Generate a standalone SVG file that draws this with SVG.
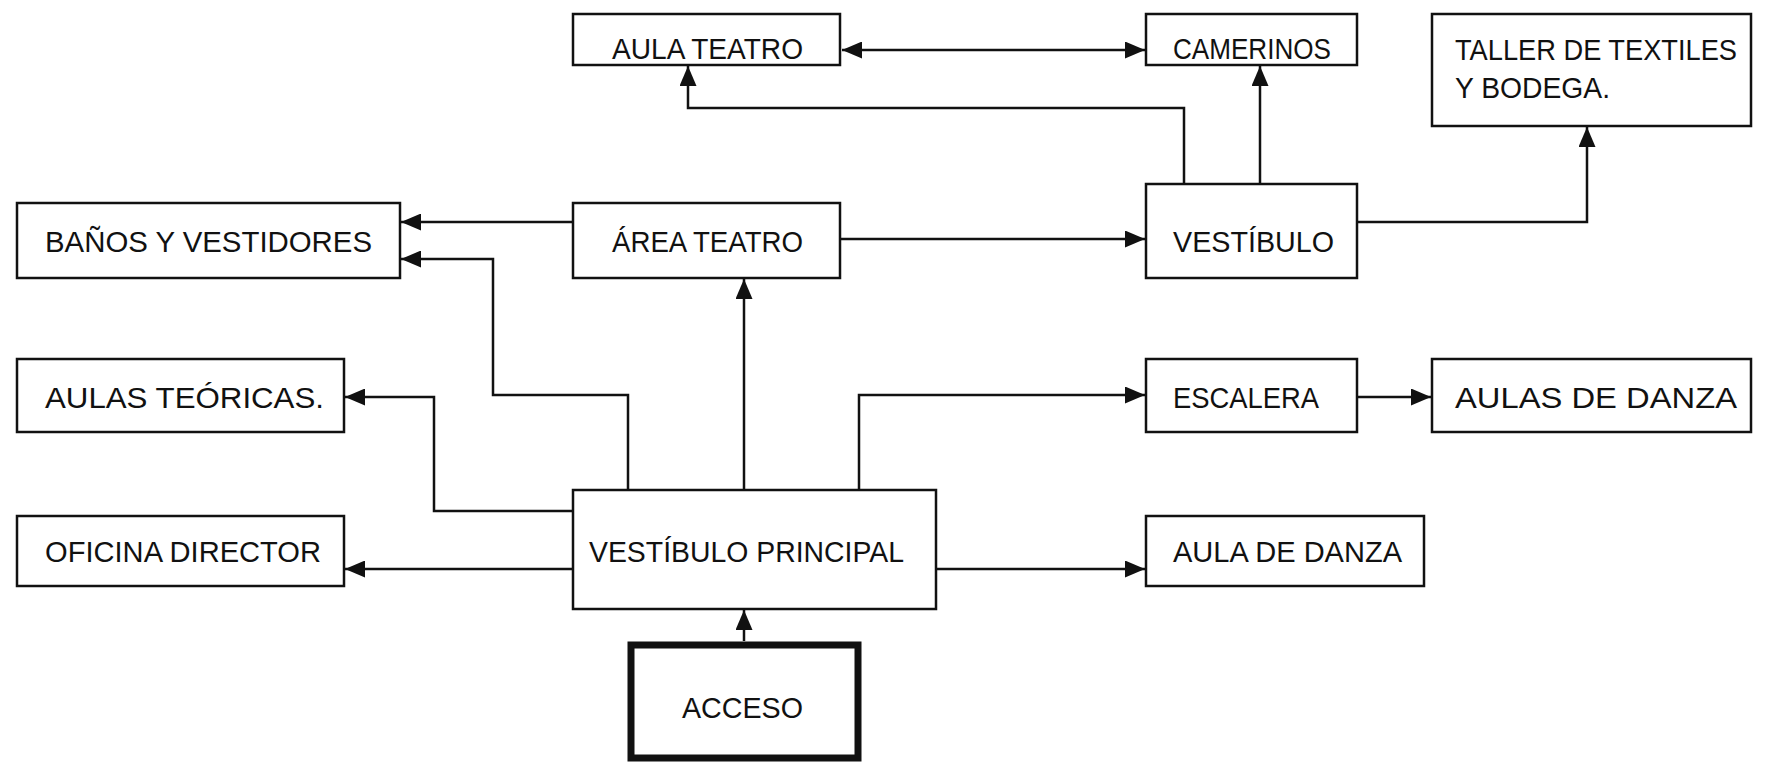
<svg xmlns="http://www.w3.org/2000/svg" width="1768" height="762" viewBox="0 0 1768 762">
<style>
rect.n{fill:#fff;stroke:#111;stroke-width:2.5}
rect.thick{fill:#fff;stroke:#111;stroke-width:7}
text{font-family:"Liberation Sans",Arial,sans-serif;font-size:30px;fill:#111}
.c path{fill:none;stroke:#111;stroke-width:2.5}
</style>
<defs>
<marker id="ah" viewBox="0 0 20 17" refX="20" refY="8.5" markerWidth="20" markerHeight="17" markerUnits="userSpaceOnUse" orient="auto-start-reverse">
<path d="M0,0 L20,8.5 L0,17 Z" fill="#111"/>
</marker>
</defs>
<rect width="1768" height="762" fill="#fff"/>
<g class="c">
<path d="M842,50 H1145" marker-start="url(#ah)" marker-end="url(#ah)"/>
<path d="M1184,184 V108 H688 V66" marker-end="url(#ah)"/>
<path d="M1260,184 V66" marker-end="url(#ah)"/>
<path d="M1357,222 H1587 V127" marker-end="url(#ah)"/>
<path d="M573,222 H401" marker-end="url(#ah)"/>
<path d="M840,239 H1145" marker-end="url(#ah)"/>
<path d="M628,490 V395 H493 V259 H401" marker-end="url(#ah)"/>
<path d="M744,490 V279" marker-end="url(#ah)"/>
<path d="M573,511 H434 V397 H345" marker-end="url(#ah)"/>
<path d="M573,569 H345" marker-end="url(#ah)"/>
<path d="M859,490 V395 H1145" marker-end="url(#ah)"/>
<path d="M936,569 H1145" marker-end="url(#ah)"/>
<path d="M1357,397 H1431" marker-end="url(#ah)"/>
<path d="M744,641 V610" marker-end="url(#ah)"/>
</g>
<g id="aula-teatro"><rect class="n" x="573" y="14" width="267" height="51"/><text x="612" y="59" textLength="191" lengthAdjust="spacingAndGlyphs">AULA TEATRO</text></g>
<g id="camerinos"><rect class="n" x="1146" y="14" width="211" height="51"/><text x="1173" y="59" textLength="158" lengthAdjust="spacingAndGlyphs">CAMERINOS</text></g>
<g id="taller"><rect class="n" x="1432" y="14" width="319" height="112"/><text x="1455" y="60" textLength="282" lengthAdjust="spacingAndGlyphs">TALLER DE TEXTILES</text><text x="1455" y="98" textLength="155" lengthAdjust="spacingAndGlyphs">Y BODEGA.</text></g>
<g id="banos"><rect class="n" x="17" y="203" width="383" height="75"/><text x="45" y="252" textLength="327" lengthAdjust="spacingAndGlyphs">BAÑOS Y VESTIDORES</text></g>
<g id="area-teatro"><rect class="n" x="573" y="203" width="267" height="75"/><text x="612" y="252" textLength="191" lengthAdjust="spacingAndGlyphs">ÁREA TEATRO</text></g>
<g id="vestibulo"><rect class="n" x="1146" y="184" width="211" height="94"/><text x="1173" y="252" textLength="161" lengthAdjust="spacingAndGlyphs">VESTÍBULO</text></g>
<g id="aulas-teoricas"><rect class="n" x="17" y="359" width="327" height="73"/><text x="45" y="408" textLength="279" lengthAdjust="spacingAndGlyphs">AULAS TEÓRICAS.</text></g>
<g id="escalera"><rect class="n" x="1146" y="359" width="211" height="73"/><text x="1173" y="408" textLength="146" lengthAdjust="spacingAndGlyphs">ESCALERA</text></g>
<g id="aulas-danza"><rect class="n" x="1432" y="359" width="319" height="73"/><text x="1455" y="408" textLength="282" lengthAdjust="spacingAndGlyphs">AULAS DE DANZA</text></g>
<g id="oficina"><rect class="n" x="17" y="516" width="327" height="70"/><text x="45" y="562" textLength="276" lengthAdjust="spacingAndGlyphs">OFICINA DIRECTOR</text></g>
<g id="vestibulo-principal"><rect class="n" x="573" y="490" width="363" height="119"/><text x="589" y="562" textLength="315" lengthAdjust="spacingAndGlyphs">VESTÍBULO PRINCIPAL</text></g>
<g id="aula-danza"><rect class="n" x="1146" y="516" width="278" height="70"/><text x="1173" y="562" textLength="229" lengthAdjust="spacingAndGlyphs">AULA DE DANZA</text></g>
<g id="acceso"><rect class="thick" x="631" y="645" width="227" height="113"/><text x="682" y="718" textLength="121" lengthAdjust="spacingAndGlyphs">ACCESO</text></g>
</svg>
